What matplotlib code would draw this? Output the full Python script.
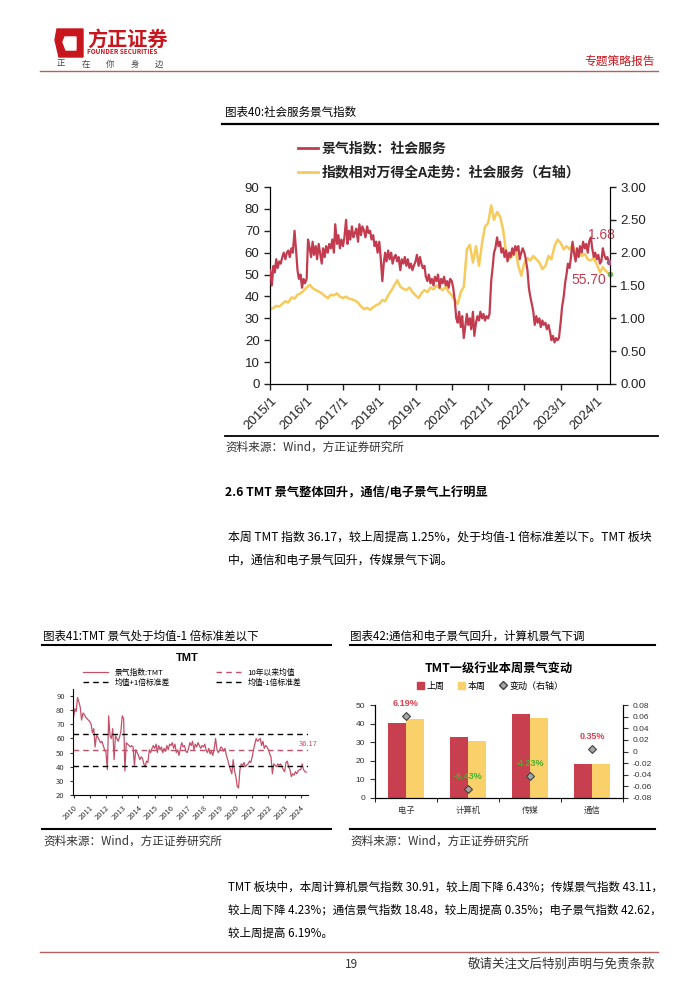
import numpy as np
import pandas as pd
import matplotlib
matplotlib.use("Agg")
import matplotlib.pyplot as plt
from matplotlib.lines import Line2D
from matplotlib.patches import Polygon, Patch

plt.rcParams['font.family'] = ['Noto Sans CJK SC', 'DejaVu Sans']
plt.rcParams['axes.unicode_minus'] = False

# ---- chart 40: social services sentiment index (semi-monthly) ----
red_2015 = [52, 45, 54, 51, 57, 53, 56, 55, 58, 60, 57, 60, 61, 58, 62, 60, 70, 62, 52, 48, 50, 44, 48, 46]
red_2016 = [48, 66, 62, 58, 65, 59, 63, 57, 64, 60, 55, 62, 58, 63, 60, 64, 62, 66, 60, 73, 64, 68, 62, 66]
red_2017 = [63, 67, 75, 64, 70, 66, 72, 67, 69, 71, 65, 73, 68, 72, 70, 67, 72, 69, 70, 66, 68, 63, 65, 60]
red_2018 = [65, 58, 47, 55, 60, 56, 61, 57, 60, 55, 58, 59, 56, 58, 52, 57, 55, 58, 54, 57, 53, 55, 52, 54]
red_2019 = [56, 59, 54, 58, 55, 53, 54, 49, 47, 50, 46, 48, 45, 49, 47, 50, 44, 48, 46, 49, 45, 47, 44, 48]
red_2020 = [47, 44, 38, 30, 28, 33, 26, 31, 21, 26, 32, 27, 30, 25, 33, 22, 28, 31, 29, 33, 30, 32, 29, 31]
red_2021 = [30, 32, 47, 53, 60, 62, 67, 63, 65, 60, 62, 58, 61, 56, 60, 58, 62, 59, 63, 61, 63, 57, 60, 62]
red_2022 = [60, 57, 52, 44, 40, 37, 33, 27, 31, 28, 30, 26, 29, 27, 28, 25, 27, 24, 20, 22, 19, 21, 20, 21]
red_2023 = [28, 35, 40, 46, 50, 55, 53, 58, 65, 60, 56, 62, 58, 63, 60, 65, 62, 64, 60, 65, 67, 62, 58, 60]
red_2024 = [57, 59, 55, 56, 62, 59, 57, 58, 55.7]

yel_2015 = [1.14, 1.16, 1.19, 1.18, 1.22, 1.26, 1.24, 1.32, 1.30, 1.36, 1.38, 1.42]
yel_2016 = [1.47, 1.51, 1.46, 1.43, 1.41, 1.38, 1.34, 1.31, 1.36, 1.35, 1.38, 1.33]
yel_2017 = [1.31, 1.33, 1.30, 1.29, 1.27, 1.24, 1.18, 1.14, 1.16, 1.13, 1.17, 1.20]
yel_2018 = [1.22, 1.28, 1.26, 1.35, 1.42, 1.50, 1.58, 1.48, 1.45, 1.43, 1.47, 1.40]
yel_2019 = [1.35, 1.31, 1.38, 1.43, 1.40, 1.47, 1.44, 1.50, 1.46, 1.43, 1.48, 1.40]
yel_2020 = [1.35, 1.28, 1.22, 1.40, 1.48, 2.05, 2.12, 1.85, 2.10, 1.80, 2.15, 2.40]
yel_2021 = [2.45, 2.72, 2.50, 2.62, 2.55, 2.35, 2.00, 1.90, 1.95, 2.08, 1.80, 1.65]
yel_2022 = [1.85, 1.92, 1.88, 1.95, 1.90, 1.85, 1.75, 1.80, 1.95, 1.90, 2.10, 2.20]
yel_2023 = [2.15, 2.05, 2.10, 2.05, 2.12, 1.98, 2.02, 1.95, 1.98, 1.90, 1.88, 1.92]
yel_2024 = [1.82, 1.70, 1.78, 1.72, 1.68]

red_vals = red_2015 + red_2016 + red_2017 + red_2018 + red_2019 + red_2020 + red_2021 + red_2022 + red_2023 + red_2024
yel_vals = yel_2015 + yel_2016 + yel_2017 + yel_2018 + yel_2019 + yel_2020 + yel_2021 + yel_2022 + yel_2023 + yel_2024
red_dates = pd.date_range("2015-01-01", periods=len(red_vals), freq="SMS")
yel_dates = pd.date_range("2015-01-01", periods=len(yel_vals), freq="MS")
year_ticks = pd.date_range("2015-01-01", "2024-01-01", freq="YS")
year_labels = [f"{d.year}/1" for d in year_ticks]

# ---- chart 41: TMT sentiment (monthly) ----
tmt_2010 = [75, 81, 79, 89, 86, 82, 73, 78, 77, 75, 74, 73]
tmt_2011 = [72, 70, 64, 67, 54, 62, 61, 59, 57, 58, 55, 52]
tmt_2012 = [50, 38, 76, 62, 60, 67, 45, 62, 60, 58, 61, 65]
tmt_2013 = [76, 74, 37, 57, 56, 55, 54, 55, 54, 41, 52, 50]
tmt_2014 = [48, 45, 47, 46, 42, 40, 44, 43, 52, 50, 53, 55]
tmt_2015 = [53, 56, 50, 55, 52, 54, 50, 53, 51, 55, 52, 56]
tmt_2016 = [55, 57, 53, 56, 50, 52, 48, 53, 57, 54, 55, 51]
tmt_2017 = [50, 53, 57, 55, 58, 52, 56, 54, 57, 55, 53, 55]
tmt_2018 = [54, 56, 52, 50, 53, 49, 51, 48, 53, 60, 52, 50]
tmt_2019 = [52, 54, 53, 51, 53, 48, 45, 41, 38, 35, 45, 37]
tmt_2020 = [33, 26, 25, 38, 42, 41, 43, 40, 41, 42, 44, 43]
tmt_2021 = [47, 52, 56, 60, 58, 59, 60, 55, 58, 53, 55, 54]
tmt_2022 = [52, 49, 47, 35, 42, 41, 40, 42, 41, 42, 40, 38]
tmt_2023 = [36.5, 43, 44, 40, 38, 33, 35, 34, 36.5, 35, 37, 38]
tmt_2024 = [38, 42, 38, 36.5, 36.17]
tmt_vals = (tmt_2010 + tmt_2011 + tmt_2012 + tmt_2013 + tmt_2014 + tmt_2015 + tmt_2016
            + tmt_2017 + tmt_2018 + tmt_2019 + tmt_2020 + tmt_2021 + tmt_2022 + tmt_2023 + tmt_2024)
tmt_dates = pd.date_range("2010-01-01", periods=len(tmt_vals), freq="MS")
tmt_mean = 51.9
tmt_up = 63.2
tmt_dn = 40.6
tmt_ticks = pd.date_range("2010-01-01", "2024-01-01", freq="YS")

# ---- chart 42: TMT sub-industries ----
ind_names = ["电子", "计算机", "传媒", "通信"]
last_week = [40.14, 33.03, 45.01, 18.42]
this_week = [42.62, 30.91, 43.11, 18.48]
change = [0.0619, -0.0643, -0.0423, 0.0035]
change_labels = ["6.19%", "-6.43%", "-4.23%", "0.35%"]

RED = "#C33B4F"
YEL = "#F6CB5C"
BRAND = "#C8161E"
ARIAL = ["Liberation Sans", "DejaVu Sans"]

fig = plt.figure(figsize=(7, 9.9), dpi=100)


def fx(x):
    return x / 700


def fy(y):
    return 1 - y / 990


def hline(x0, x1, y, color="black", lw=1.2):
    fig.add_artist(Line2D([fx(x0), fx(x1)], [fy(y), fy(y)], transform=fig.transFigure, color=color, lw=lw))


def txt(x, y, s, size=8.6, **kw):
    fig.text(fx(x), fy(y), s, fontsize=size, va="center", **kw)


# header
logo = Polygon([(fx(57), fy(29)), (fx(83), fy(29)), (fx(83), fy(57)), (fx(59), fy(57)),
                (fx(55), fy(40))], closed=True, transform=fig.transFigure, color=BRAND)
fig.add_artist(logo)
hole = Polygon([(fx(65), fy(37)), (fx(76), fy(37)), (fx(76), fy(50)), (fx(66), fy(50)), (fx(63), fy(42))],
               closed=True, transform=fig.transFigure, color="white")
fig.add_artist(hole)
txt(87, 39, "方正证券", size=14.5, color=BRAND, weight="bold")
txt(87, 52, "FOUNDER SECURITIES", size=4.6, color=BRAND, weight="bold")
for i, ch in enumerate("正在你身边"):
    txt(57 + i * 24.5, 64, ch, size=6, color="#444444")
txt(655, 61, "专题策略报告", size=8.5, color=BRAND, ha="right")
hline(40, 658, 71, color="#B5605E", lw=1.0)

# chart 40 frame
txt(225, 112, "图表40:社会服务景气指数", size=8.3)
hline(222, 658, 124, lw=1.6)
fig.add_artist(Line2D([fx(298), fx(318)], [fy(148), fy(148)], transform=fig.transFigure, color=RED, lw=2))
fig.add_artist(Line2D([fx(298), fx(318)], [fy(172), fy(172)], transform=fig.transFigure, color=YEL, lw=2))
txt(322, 148, "景气指数：社会服务", size=10, weight="bold", color="#222222")
txt(322, 172, "指数相对万得全A走势：社会服务（右轴）", size=10, weight="bold", color="#222222")

ax1 = fig.add_axes([fx(270), fy(384), 340 / 700, 197 / 990])
ax1.plot(red_dates, red_vals, color=RED, lw=1.6, zorder=3)
ax1.set_ylim(0, 90)
ax1.set_yticks(np.arange(0, 91, 10))
ax1.set_xlim(pd.Timestamp("2014-12-28"), pd.Timestamp("2024-05-12"))
ax1.set_xticks(year_ticks)
ax1.set_xticklabels(year_labels, rotation=45, ha="right", rotation_mode="anchor")
ax2 = ax1.twinx()
ax2.plot(yel_dates, yel_vals, color=YEL, lw=1.8, zorder=2)
ax2.set_ylim(0, 3)
ax2.set_yticks(np.arange(0, 3.01, 0.5))
ax2.set_yticklabels([f"{v:.2f}" for v in np.arange(0, 3.01, 0.5)])
ax1.set_zorder(ax2.get_zorder() + 1)
ax1.patch.set_visible(False)
for a in (ax1, ax2):
    a.spines["top"].set_visible(False)
    a.tick_params(labelsize=9.5, colors="#222222", length=4, width=1)
    for lab in a.get_xticklabels() + a.get_yticklabels():
        lab.set_family(ARIAL)
ax1.plot(red_dates[-1], red_vals[-1], "o", ms=3, color="#9C5A86", zorder=4)
ax2.plot(yel_dates[-1] + pd.Timedelta(days=10), yel_vals[-1], "o", ms=3, color="#5DBB46", clip_on=False, zorder=4)
ax2.annotate(f"{yel_vals[-1]:.2f}", (yel_dates[-1], yel_vals[-1]), xytext=(4, 28),
             textcoords="offset points", ha="right", va="center", fontsize=10, color=RED, family=ARIAL)
ax1.annotate(f"{red_vals[-1]:.2f}", (red_dates[-1], red_vals[-1]), xytext=(-2, -13),
             textcoords="offset points", ha="right", va="center", fontsize=10, color=RED, family=ARIAL)

hline(225, 658, 436, lw=1.3)
txt(225, 447, "资料来源：Wind，方正证券研究所", size=8.4, color="#333333")

# body text
txt(225, 493, "2.6 TMT 景气整体回升，通信/电子景气上行明显", size=8.8, weight="bold")
txt(228, 537, "本周 TMT 指数 36.17，较上周提高 1.25%，处于均值-1 倍标准差以下。TMT 板块")
txt(228, 560, "中，通信和电子景气回升，传媒景气下调。")

# chart 41
txt(43, 636, "图表41:TMT 景气处于均值-1 倍标准差以下", size=8.3)
hline(42, 331, 645, lw=1.5)
txt(187, 658, "TMT", size=8, weight="bold", ha="center", family=ARIAL)
ax3 = fig.add_axes([fx(73), fy(795), 235 / 700, 106 / 990])
l1, = ax3.plot(tmt_dates, tmt_vals, color="#C4506A", lw=0.9)
l2 = ax3.axhline(tmt_mean, color="#C4506A", ls=(0, (4, 3)), lw=1.0)
l3 = ax3.axhline(tmt_up, color="black", ls=(0, (4, 3)), lw=1.0)
l4 = ax3.axhline(tmt_dn, color="black", ls=(0, (4, 3)), lw=1.0)
ax3.set_ylim(20, 95)
ax3.set_yticks(np.arange(20, 91, 10))
ax3.set_xlim(pd.Timestamp("2009-12-20"), pd.Timestamp("2024-06-10"))
ax3.set_xticks(tmt_ticks)
ax3.set_xticklabels([str(d.year) for d in tmt_ticks], rotation=45, ha="right", rotation_mode="anchor")
ax3.spines["top"].set_visible(False)
ax3.spines["right"].set_visible(False)
ax3.tick_params(labelsize=5.5, colors="#333333", length=2.5, width=0.8)
ax3.text(1.0, (tmt_mean + 4 - 20) / 75, f"{tmt_vals[-1]:.2f}", transform=ax3.transAxes,
         fontsize=5.5, color="#C4506A", ha="center", va="center")
fig.legend([l1, l3, l2, l4], ["景气指数:TMT", "均值+1倍标准差", "10年以来均值", "均值-1倍标准差"],
           ncol=2, loc="center", bbox_to_anchor=(fx(192), fy(678)), frameon=False,
           fontsize=5.6, handlelength=3.2, columnspacing=6, labelspacing=0.25)
hline(42, 331, 829, lw=1.5)
txt(43, 841, "资料来源：Wind，方正证券研究所", size=8.4, color="#333333")

# chart 42
txt(350, 636, "图表42:通信和电子景气回升，计算机景气下调", size=8.3)
hline(350, 655, 645, lw=1.5)
txt(499, 669, "TMT一级行业本周景气变动", size=8.8, weight="bold", ha="center")
ax4 = fig.add_axes([fx(375), fy(798), 248 / 700, 93 / 990])
xpos = np.arange(len(ind_names))
bw = 0.29
b1 = ax4.bar(xpos - bw / 2, last_week, bw, color="#C8404F")
b2 = ax4.bar(xpos + bw / 2, this_week, bw, color="#F9D06A")
ax4.set_ylim(0, 50)
ax4.set_yticks(np.arange(0, 51, 10))
ax4.set_xlim(-0.5, 3.5)
ax4.set_xticks(xpos)
ax4.set_xticklabels(ind_names)
ax4.set_xticks(np.arange(-0.5, 3.6, 1), minor=True)
ax4.spines["top"].set_visible(False)
ax4.tick_params(axis="x", which="major", length=0, pad=6)
ax4.tick_params(axis="x", which="minor", length=3)
ax4.tick_params(labelsize=6, colors="#333333")
for lab in ax4.get_yticklabels():
    lab.set_family(ARIAL)
ax5 = ax4.twinx()
ax5.scatter(xpos, change, marker="D", s=16, color="#A6A6A6", edgecolor="#404040", linewidth=0.8, zorder=5)
ax5.set_ylim(-0.08, 0.08)
rt = np.round(np.arange(-0.08, 0.081, 0.02), 2)
ax5.set_yticks(rt)
ax5.set_yticklabels(["0" if v == 0 else f"{v:.2f}" for v in rt], family=ARIAL)
ax5.spines["top"].set_visible(False)
ax5.tick_params(labelsize=6, colors="#333333")
for xi, v, lab in zip(xpos, change, change_labels):
    ax5.annotate(lab, (xi, v), xytext=(0, 9), textcoords="offset points", ha="center", va="center",
                 fontsize=6.5, weight="bold", color="#D9434F" if v > 0 else "#4CAF2E", family=ARIAL)
fig.legend([Patch(color="#C8404F"), Patch(color="#F9D06A"),
            Line2D([], [], marker="D", ls="", ms=4, mfc="#A6A6A6", mec="#404040")],
           ["上周", "本周", "变动（右轴）"], ncol=3, loc="center", bbox_to_anchor=(fx(490), fy(686)),
           frameon=False, fontsize=6.5, handlelength=0.8, handleheight=0.8, columnspacing=1.5,
           handletextpad=0.3)
hline(350, 655, 829, lw=1.5)
txt(350, 841, "资料来源：Wind，方正证券研究所", size=8.4, color="#333333")

# bottom text
txt(228, 887, "TMT 板块中，本周计算机景气指数 30.91，较上周下降 6.43%；传媒景气指数 43.11，", size=8.3)
txt(228, 910, "较上周下降 4.23%；通信景气指数 18.48，较上周提高 0.35%；电子景气指数 42.62，", size=8.3)
txt(228, 933, "较上周提高 6.19%。", size=8.3)
hline(40, 658, 952, color="#B5605E", lw=1.0)
txt(351, 964, "19", size=8.5, ha="center", color="#333333")
txt(655, 964, "敬请关注文后特别声明与免责条款", size=9, ha="right", color="#333333")

fig.savefig("out.png", dpi=100)
